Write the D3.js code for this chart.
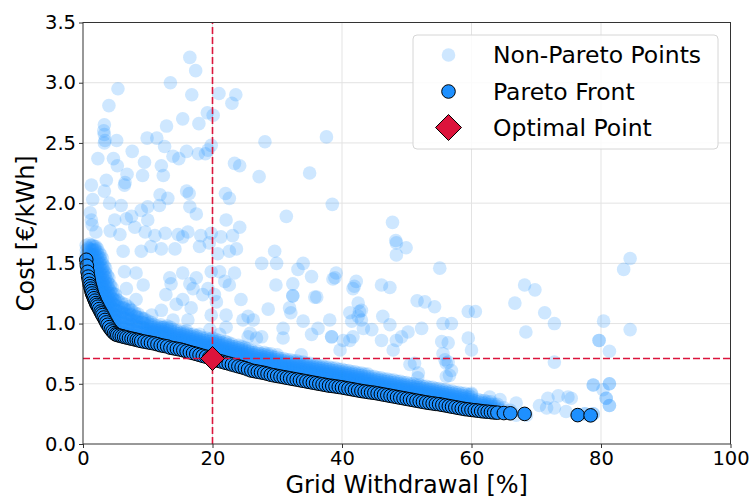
<!DOCTYPE html>
<html>
<head>
<meta charset="utf-8">
<script src="https://cdn.jsdelivr.net/npm/d3@7"></script>
<style>
  body { margin: 0; background: #fff; }
  svg { display: block; }
</style>
</head>
<body>
<div id="chart"></div>
<script>
// Axis ticks
const xTicks = [0, 20, 40, 60, 80, 100];
const yTicks = [0, 0.5, 1.0, 1.5, 2.0, 2.5, 3.0, 3.5];

// Optimal point [grid withdrawal %, cost]
const optimal = [20, 0.71];

// Pareto front points
const pareto = [
  [0.5,1.53],[0.6,1.48],[0.7,1.43],[0.8,1.39],[0.9,1.36],[1.0,1.33],[1.1,1.31],[1.2,1.29],
  [1.3,1.27],[1.4,1.25],[1.55,1.23],[1.7,1.21],[1.85,1.19],[2.0,1.17],[2.15,1.155],[2.3,1.14],
  [2.5,1.12],[2.7,1.10],[2.85,1.085],[3.0,1.07],[3.2,1.05],[3.4,1.03],[3.6,1.01],[3.8,0.99],
  [4.05,0.97],[4.3,0.95],[4.55,0.935],[4.8,0.92],[5.05,0.91],[5.3,0.905],[5.65,0.90],[6.0,0.895],
  [6.35,0.89],[6.7,0.885],[7.1,0.88],[7.5,0.875],[7.9,0.87],[8.3,0.865],[8.65,0.86],[9.0,0.855],
  [9.5,0.85],[10.0,0.845],[10.5,0.84],[11,0.835],[11.5,0.828],[12,0.82],[12.5,0.815],[13,0.81],
  [13.5,0.80],[14,0.795],[14.5,0.79],[15,0.785],[15.5,0.778],[16,0.77],[16.5,0.762],[17,0.755],
  [17.5,0.748],[18,0.74],[18.5,0.732],[19,0.725],[19.5,0.718],[20,0.71],[20.5,0.70],[21,0.69],
  [21.5,0.683],[22,0.675],[22.5,0.668],[23,0.66],[23.5,0.653],[24,0.645],[24.5,0.638],[25,0.63],
  [25.5,0.62],[26,0.61],[26.5,0.605],[27,0.60],[27.5,0.595],[28,0.59],[28.5,0.583],[29,0.575],
  [29.5,0.57],[30,0.565],[30.5,0.56],[31,0.555],[31.5,0.55],[32,0.545],[32.5,0.54],[33,0.535],
  [33.5,0.53],[34,0.525],[34.5,0.52],[35,0.515],[35.5,0.51],[36,0.505],[36.5,0.50],[37,0.495],
  [37.5,0.49],[38,0.485],[38.5,0.482],[39,0.478],[39.5,0.474],[40,0.47],[40.5,0.465],[41,0.46],
  [41.5,0.455],[42,0.45],[42.5,0.445],[43,0.44],[43.5,0.436],[44,0.432],[44.5,0.428],[45,0.425],
  [45.5,0.42],[46,0.415],[46.5,0.41],[47,0.405],[47.5,0.40],[48,0.395],[48.5,0.39],[49,0.385],
  [49.5,0.38],[50,0.375],[50.5,0.37],[51,0.365],[51.5,0.36],[52,0.355],[52.5,0.35],[53,0.345],
  [53.5,0.341],[54,0.337],[54.5,0.333],[55,0.33],[55.5,0.325],[56,0.32],[56.5,0.315],[57,0.31],
  [57.5,0.305],[58,0.30],[58.5,0.295],[59,0.29],[59.5,0.287],[60,0.283],[60.5,0.28],[61,0.277],
  [61.5,0.273],[62,0.27],[62.5,0.268],[63,0.265],[63.5,0.262],[64,0.26],[65,0.257],[66,0.255],
  [68.2,0.25],[76.4,0.24],[78.4,0.238]
];

// Dense cloud just above the front: [x, [costs...]]
const denseRows = [
  [0.5,[1.57,1.61,1.65]],
  [0.75,[1.47,1.51,1.55,1.59,1.63]],
  [1.0,[1.38,1.42,1.46,1.50,1.54,1.58,1.62,1.66]],
  [1.25,[1.33,1.37,1.41,1.45,1.49,1.53,1.57,1.61,1.65]],
  [1.5,[1.29,1.33,1.37,1.41,1.45,1.49,1.53,1.57,1.61,1.65]],
  [1.75,[1.25,1.29,1.33,1.37,1.41,1.45,1.49,1.53,1.57,1.61,1.64]],
  [2.0,[1.21,1.25,1.29,1.33,1.37,1.41,1.45,1.49,1.53,1.57,1.61,1.64]],
  [2.25,[1.18,1.22,1.26,1.30,1.34,1.38,1.42,1.46,1.50,1.54,1.58,1.62]],
  [2.5,[1.15,1.19,1.23,1.27,1.31,1.35,1.39,1.43,1.47,1.51,1.55,1.59]],
  [2.75,[1.13,1.17,1.21,1.25,1.29,1.33,1.37,1.41,1.45,1.49,1.53,1.57]],
  [3.0,[1.10,1.14,1.18,1.22,1.26,1.30,1.34,1.38,1.42,1.46,1.50,1.54]],
  [3.25,[1.08,1.12,1.16,1.20,1.24,1.28,1.32,1.36,1.40,1.44,1.48]],
  [3.5,[1.06,1.10,1.14,1.18,1.22,1.26,1.30,1.34,1.38,1.42,1.46]],
  [3.75,[1.03,1.07,1.11,1.15,1.19,1.23,1.27,1.31,1.35,1.40]],
  [4.0,[1.01,1.05,1.09,1.13,1.17,1.21,1.25,1.29,1.33,1.38]],
  [4.25,[0.99,1.03,1.07,1.11,1.15,1.19,1.23,1.27,1.32]],
  [4.5,[0.97,1.01,1.05,1.09,1.13,1.17,1.21,1.25,1.30]],
  [4.75,[0.96,1.00,1.04,1.08,1.12,1.16,1.20,1.25]],
  [5.0,[0.95,0.99,1.03,1.07,1.11,1.15,1.19,1.24]],
  [5.25,[0.95,0.99,1.03,1.07,1.11,1.15,1.20]],
  [5.5,[0.94,0.98,1.02,1.06,1.10,1.14,1.19]],
  [6.0,[0.93,0.97,1.01,1.05,1.09,1.13,1.17]],
  [6.25,[0.93,0.97,1.01,1.05,1.09,1.13]],
  [6.5,[0.92,0.96,1.00,1.04,1.08,1.12,1.16]],
  [7.0,[0.91,0.95,0.99,1.03,1.07,1.11,1.14]],
  [7.25,[0.92,0.96,1.00,1.04,1.08,1.12]],
  [7.5,[0.91,0.95,0.99,1.03,1.07,1.11]],
  [8.0,[0.90,0.94,0.98,1.02,1.06,1.09]],
  [8.25,[0.90,0.94,0.98,1.02,1.06]],
  [8.5,[0.89,0.93,0.97,1.01,1.05,1.08]],
  [9.0,[0.89,0.93,0.97,1.01,1.05]],
  [9.25,[0.89,0.93,0.97,1.01,1.04]],
  [9.5,[0.88,0.92,0.96,1.00,1.04]],
  [10,[0.88,0.90,0.92,0.94,0.96,0.98,1.00,1.02]],
  [10.5,[0.87,0.89,0.91,0.93,0.95,0.97,0.99,1.01]],
  [11,[0.87,0.89,0.91,0.93,0.95,0.97,0.99]],
  [11.5,[0.86,0.88,0.90,0.92,0.94,0.96,0.98]],
  [12,[0.85,0.87,0.89,0.91,0.93,0.95,0.97,0.99]],
  [12.5,[0.85,0.87,0.89,0.91,0.93,0.95,0.97]],
  [13,[0.84,0.86,0.88,0.90,0.92,0.94,0.96,0.98]],
  [13.5,[0.83,0.85,0.87,0.89,0.91,0.93,0.95,0.97]],
  [14,[0.83,0.85,0.87,0.89,0.91,0.93,0.95]],
  [14.5,[0.82,0.84,0.86,0.88,0.90,0.92,0.94]],
  [15,[0.82,0.84,0.86,0.88,0.90,0.92,0.94]],
  [15.5,[0.81,0.83,0.85,0.87,0.89,0.91,0.93]],
  [16,[0.80,0.82,0.84,0.86,0.88,0.90,0.92,0.94]],
  [16.5,[0.79,0.81,0.83,0.85,0.87,0.89,0.91]],
  [17,[0.79,0.81,0.83,0.85,0.87,0.89,0.91]],
  [17.5,[0.78,0.80,0.82,0.84,0.86,0.88,0.90]],
  [18,[0.77,0.79,0.81,0.83,0.85,0.87,0.89,0.91]],
  [18.5,[0.76,0.78,0.80,0.82,0.84,0.86,0.88]],
  [19,[0.76,0.78,0.80,0.82,0.84,0.86,0.88]],
  [19.5,[0.75,0.77,0.79,0.81,0.83,0.85,0.87]],
  [20,[0.74,0.76,0.78,0.80,0.82,0.84,0.86,0.88]],
  [20.5,[0.73,0.75,0.77,0.79,0.81,0.83,0.85,0.87]],
  [21,[0.72,0.74,0.76,0.78,0.80,0.82,0.84,0.86]],
  [21.5,[0.72,0.74,0.76,0.78,0.80,0.82,0.84]],
  [22,[0.71,0.73,0.75,0.77,0.79,0.81,0.83,0.85]],
  [22.5,[0.70,0.72,0.74,0.76,0.78,0.80,0.82,0.84]],
  [23,[0.69,0.71,0.73,0.75,0.77,0.79,0.81,0.83]],
  [23.5,[0.69,0.71,0.73,0.75,0.77,0.79,0.81]],
  [24,[0.68,0.70,0.72,0.74,0.76,0.78,0.80,0.82]],
  [24.5,[0.67,0.69,0.71,0.73,0.75,0.77,0.79,0.81]],
  [25,[0.66,0.68,0.70,0.72,0.74,0.76,0.78,0.80]],
  [25.5,[0.65,0.67,0.69,0.71,0.73,0.75,0.77,0.79]],
  [26,[0.64,0.66,0.68,0.70,0.72,0.74,0.76,0.78]],
  [26.5,[0.64,0.66,0.68,0.70,0.72,0.74,0.76]],
  [27,[0.63,0.65,0.67,0.69,0.71,0.73,0.75,0.77]],
  [27.5,[0.63,0.65,0.67,0.69,0.71,0.73,0.75]],
  [28,[0.62,0.64,0.66,0.68,0.70,0.72,0.74,0.76]],
  [28.5,[0.61,0.63,0.65,0.67,0.69,0.71,0.73,0.75]],
  [29,[0.61,0.63,0.65,0.67,0.69,0.71,0.73,0.75]],
  [29.5,[0.60,0.62,0.64,0.66,0.68,0.70,0.72]],
  [30,[0.60,0.62,0.64,0.66,0.68,0.70,0.72,0.74]],
  [30.5,[0.59,0.61,0.63,0.65,0.67,0.69,0.71]],
  [31,[0.59,0.61,0.63,0.65,0.67,0.69,0.71]],
  [31.5,[0.58,0.60,0.62,0.64,0.66,0.68,0.70]],
  [32,[0.58,0.60,0.62,0.64,0.66,0.68,0.70]],
  [32.5,[0.57,0.59,0.61,0.63,0.65,0.67,0.69]],
  [33,[0.57,0.59,0.61,0.63,0.65,0.67,0.69]],
  [33.5,[0.56,0.58,0.60,0.62,0.64,0.66,0.68]],
  [34,[0.56,0.58,0.60,0.62,0.64,0.66,0.68]],
  [34.5,[0.55,0.57,0.59,0.61,0.63,0.65,0.67]],
  [35,[0.55,0.57,0.59,0.61,0.63,0.65,0.67]],
  [35.5,[0.54,0.56,0.58,0.60,0.62,0.64,0.66]],
  [36,[0.54,0.56,0.58,0.60,0.62,0.64,0.66]],
  [36.5,[0.53,0.55,0.57,0.59,0.61,0.63,0.65]],
  [37,[0.53,0.55,0.57,0.59,0.61,0.63,0.65]],
  [37.5,[0.52,0.54,0.56,0.58,0.60,0.62,0.64]],
  [38,[0.52,0.54,0.56,0.58,0.60,0.62,0.64]],
  [38.5,[0.51,0.53,0.55,0.57,0.59,0.61,0.63]],
  [39,[0.51,0.53,0.55,0.57,0.59,0.61,0.63]],
  [39.5,[0.50,0.52,0.54,0.56,0.58,0.60,0.62]],
  [40,[0.50,0.52,0.54,0.56,0.58,0.60,0.62]],
  [40.5,[0.49,0.51,0.53,0.55,0.57,0.59,0.61]],
  [41,[0.49,0.51,0.53,0.55,0.57,0.59,0.61]],
  [41.5,[0.48,0.50,0.52,0.54,0.56,0.58,0.60]],
  [42,[0.48,0.50,0.52,0.54,0.56,0.58,0.60]],
  [42.5,[0.47,0.49,0.51,0.53,0.55,0.57,0.59]],
  [43,[0.47,0.49,0.51,0.53,0.55,0.57,0.59]],
  [43.5,[0.46,0.48,0.50,0.52,0.54,0.56,0.58]],
  [44,[0.46,0.48,0.50,0.52,0.54,0.56,0.58]],
  [44.5,[0.46,0.48,0.50,0.52,0.54,0.56]],
  [45,[0.46,0.48,0.50,0.52,0.54,0.56]],
  [45.5,[0.45,0.47,0.49,0.51,0.53,0.55]],
  [46,[0.45,0.47,0.49,0.51,0.53,0.55]],
  [46.5,[0.44,0.46,0.48,0.50,0.52,0.54]],
  [47,[0.44,0.46,0.48,0.50,0.52,0.54]],
  [47.5,[0.43,0.45,0.47,0.49,0.51,0.53]],
  [48,[0.43,0.45,0.47,0.49,0.51,0.53]],
  [48.5,[0.42,0.44,0.46,0.48,0.50,0.52]],
  [49,[0.42,0.44,0.46,0.48,0.50,0.52]],
  [49.5,[0.41,0.43,0.45,0.47,0.49,0.51]],
  [50,[0.41,0.43,0.45,0.47,0.49,0.51]],
  [50.5,[0.40,0.42,0.44,0.46,0.48,0.50]],
  [51,[0.40,0.42,0.44,0.46,0.48,0.50]],
  [51.5,[0.39,0.41,0.43,0.45,0.47,0.49]],
  [52,[0.39,0.41,0.43,0.45,0.47,0.49]],
  [52.5,[0.38,0.40,0.42,0.44,0.46,0.48]],
  [53,[0.38,0.40,0.42,0.44,0.46,0.48]],
  [53.5,[0.37,0.39,0.41,0.43,0.45,0.47]],
  [54,[0.37,0.39,0.41,0.43,0.45,0.47]],
  [54.5,[0.36,0.38,0.40,0.42,0.44,0.46]],
  [55,[0.36,0.38,0.40,0.42,0.44,0.46]],
  [55.5,[0.35,0.37,0.39,0.41,0.43,0.45]],
  [56,[0.35,0.37,0.39,0.41,0.43,0.45]],
  [56.5,[0.34,0.36,0.38,0.40,0.42,0.44]],
  [57,[0.34,0.36,0.38,0.40,0.42,0.44]],
  [57.5,[0.33,0.35,0.37,0.39,0.41,0.43]],
  [58,[0.33,0.35,0.37,0.39,0.41,0.43]],
  [58.5,[0.32,0.34,0.36,0.38,0.40,0.42]],
  [59,[0.32,0.34,0.36,0.38,0.40,0.42]],
  [59.5,[0.31,0.33,0.35,0.37,0.39,0.41]],
  [60,[0.31,0.33,0.35,0.37,0.39,0.41]],
  [60.5,[0.30,0.32,0.34,0.36]],
  [61,[0.31,0.33,0.35,0.37]],
  [61.5,[0.30,0.32,0.34,0.36]],
  [62,[0.30,0.32,0.34,0.36]],
  [62.5,[0.29,0.31,0.33,0.35]],
  [63,[0.29,0.31,0.33,0.35]],
  [63.5,[0.29,0.31,0.33]],
  [64,[0.29,0.31,0.33]],
  [65,[0.28,0.30]],
  [66,[0.28]]
];

// Scattered non-Pareto points
const scattered = [
  [16.5,3.21],[17.4,3.10],[13.5,3.00],[5.4,2.95],[16.8,2.90],[21.0,2.91],[23.6,2.90],[23.0,2.83],
  [4.0,2.81],[19.2,2.75],[20.1,2.73],[15.4,2.70],[17.9,2.66],[12.9,2.64],[3.3,2.65],[3.2,2.60],
  [3.3,2.57],[3.4,2.52],[3.3,2.50],[5.2,2.52],[9.9,2.54],[11.4,2.54],[12.6,2.47],[7.6,2.43],
  [19.8,2.48],[19.3,2.44],[17.8,2.41],[18.9,2.41],[16.0,2.43],[13.9,2.39],[14.8,2.37],[2.3,2.37],
  [4.7,2.37],[5.3,2.31],[9.5,2.34],[9.2,2.23],[12.1,2.31],[12.4,2.23],[6.8,2.24],[6.5,2.17],
  [6.4,2.15],[23.4,2.33],[24.2,2.31],[3.6,2.19],[1.3,2.15],[3.3,2.10],[16.0,2.10],[16.4,2.08],
  [11.9,2.07],[13.1,2.04],[22.0,2.08],[22.6,2.04],[1.5,2.03],[4.1,2.00],[5.9,1.98],[10.0,1.97],
  [11.8,1.98],[16.5,1.97],[17.5,1.91],[9.0,1.94],[1.1,1.92],[1.3,1.86],[1.4,1.82],[4.9,1.86],
  [6.7,1.87],[7.5,1.89],[8.0,1.80],[10.0,1.86],[22.1,1.86],[24.2,1.80],[2.0,1.76],[4.2,1.77],
  [5.7,1.74],[9.6,1.76],[11.1,1.73],[12.7,1.75],[14.7,1.74],[15.4,1.72],[16.2,1.76],[18.2,1.73],
  [19.8,1.75],[21.3,1.72],[23.1,1.73],
  [28.1,2.51],[37.6,2.55],[27.2,2.22],[35.0,2.25],[38.5,1.99],[31.4,1.89],[47.8,1.84],[48.3,1.69],
  [84.5,1.54],[83.5,1.45],[68.2,1.32],[69.8,1.28],[66.7,1.17],
  [23.7,1.62],[6.2,1.60],[9.0,1.60],[10.5,1.64],[12.1,1.62],[14.2,1.62],[18.0,1.64],[19.5,1.67],
  [20.8,1.58],[22.6,1.60],[6.4,1.43],[8.2,1.42],[9.3,1.32],[6.7,1.29],[8.2,1.20],
  [13.4,1.38],[13.6,1.33],[15.4,1.42],[16.5,1.33],[17.0,1.29],[17.5,1.38],[18.5,1.24],[15.4,1.20],
  [12.8,1.24],[14.4,1.16],[16.7,1.13],[16.2,1.03],[13.9,1.03],[12.1,1.11],[10.6,1.07],[12.3,0.97],
  [20.6,1.18],[19.8,1.07],[19.6,0.95],[21.1,0.91],[22.1,1.07],[24.4,1.20],[22.1,0.97],
  [21.1,1.43],[23.4,1.42],[19.8,1.43],[21.9,1.35],[22.6,1.32],[19.3,1.29],[20.3,1.24],
  [25.5,1.06],[24.7,1.03],[25.5,0.89],
  [29.6,1.60],[29.9,1.50],[27.6,1.50],[33.2,1.45],[34.0,1.50],[35.3,1.39],[29.8,1.32],[32.4,1.33],
  [32.4,1.23],[32.4,1.23],[36.1,1.22],[28.6,1.12],[31.9,1.13],[32.1,1.09],[39.1,1.42],[38.9,1.38],
  [38.6,1.37],[42.2,1.35],[41.9,1.31],[41.7,1.29],[48.4,1.67],[48.4,1.57],[49.9,1.63],[46.1,1.32],
  [47.4,1.30],[55.1,1.46],[51.6,1.19],[52.8,1.18],[54.3,1.14],
  [34.0,1.02],[38.1,1.03],[36.3,0.96],[35.3,0.91],[38.4,0.89],[38.4,0.89],[30.9,0.96],[30.9,0.88],
  [41.2,1.09],[42.7,1.10],[43.0,1.03],[41.5,1.02],[41.7,0.89],[41.2,0.86],[40.2,0.86],[39.7,0.78],
  [44.6,0.95],[46.1,0.86],[46.3,1.06],[47.4,0.99],[48.4,0.86],[47.9,0.78],[49.2,0.89],[50.2,0.93],
  [50.5,0.66],[52.3,0.96],[55.6,1.00],[55.4,0.85],[55.6,0.75],[56.1,0.67],[56.1,0.56],
  [26.3,1.03],[25.8,0.92],[26.8,0.88],[27.6,0.89],[33.7,0.74],
  [35.8,1.22],[42.5,1.17],[43.0,1.11],[42.5,1.06],[43.3,0.96],[51.2,0.67],[51.8,0.59],[51.7,0.55],
  [55.9,0.70],[56.6,0.57],[59.5,1.10],[60.6,1.10],[59.5,0.88],[60.0,0.78],[71.3,1.09],[72.8,1.00],
  [68.4,0.93],[80.4,1.02],[84.5,0.95],[79.7,0.86],[79.7,0.86],[81.3,0.77],[72.8,0.68],
  [56.9,1.00],[56.4,0.84],[56.9,0.61],[56.4,0.68],
  [78.8,0.49],[78.8,0.49],[81.3,0.50],[81.3,0.50],[80.3,0.45],[81.3,0.32],[81.3,0.32],[80.8,0.38],
  [80.8,0.38],[70.5,0.32],[71.8,0.38],[73.4,0.40],[74.9,0.39],[72.8,0.30],[71.6,0.30],[74.6,0.27],
  [75.4,0.38],[77.5,0.25],[77.5,0.25],[78.8,0.25],[78.8,0.25],[60.0,0.42],[62.8,0.39],[64.4,0.37],
  [66.9,0.34],[68.5,0.24],[66.9,0.24]
];

const legendLabels = ["Non-Pareto Points", "Pareto Front", "Optimal Point"];

function createChart() {
    const width = 752;
    const height = 498;
    const font = "DejaVu Sans, sans-serif";
    const blue = "#1E90FF";
    const red = "#DC143C";

    const x = d3.scaleLinear().domain([0, 100]).range([83, 730.5]);
    const y = d3.scaleLinear().domain([0, 3.5]).range([444, 22.5]);

    const svg = d3.create("svg")
        .attr("width", width)
        .attr("height", height)
        .attr("viewBox", `0 0 ${width} ${height}`)
        .style("font-family", font);

    // Grid
    svg.append("g")
        .selectAll("line")
        .data(xTicks.slice(1, -1))
        .join("line")
        .attr("x1", d => x(d)).attr("x2", d => x(d))
        .attr("y1", y(0)).attr("y2", y(3.5))
        .attr("stroke", "#e3e3e3").attr("stroke-width", 1);
    svg.append("g")
        .selectAll("line")
        .data(yTicks.slice(1, -1))
        .join("line")
        .attr("x1", x(0)).attr("x2", x(100))
        .attr("y1", d => y(d)).attr("y2", d => y(d))
        .attr("stroke", "#e3e3e3").attr("stroke-width", 1);

    // Non-Pareto points
    const nonPareto = scattered.concat(denseRows.flatMap(([xv, ys]) => ys.map(v => [xv, v])));
    svg.append("g")
        .selectAll("circle")
        .data(nonPareto)
        .join("circle")
        .attr("cx", d => x(d[0]))
        .attr("cy", d => y(d[1]))
        .attr("r", 6.8)
        .attr("fill", blue)
        .attr("fill-opacity", 0.22);

    // Pareto front
    svg.append("g")
        .selectAll("circle")
        .data(pareto)
        .join("circle")
        .attr("cx", d => x(d[0]))
        .attr("cy", d => y(d[1]))
        .attr("r", 6.8)
        .attr("fill", blue)
        .attr("stroke", "#000")
        .attr("stroke-width", 1);

    // Reference lines
    svg.append("line")
        .attr("x1", x(optimal[0])).attr("x2", x(optimal[0]))
        .attr("y1", y(0)).attr("y2", y(3.5))
        .attr("stroke", red).attr("stroke-width", 1.6).attr("stroke-dasharray", "7,3");
    svg.append("line")
        .attr("x1", x(0)).attr("x2", x(100))
        .attr("y1", y(optimal[1])).attr("y2", y(optimal[1]))
        .attr("stroke", red).attr("stroke-width", 1.6).attr("stroke-dasharray", "7,3");

    // Optimal point
    const diamond = s => `M0,${-s}L${s},0L0,${s}L${-s},0Z`;
    svg.append("path")
        .attr("d", diamond(12))
        .attr("transform", `translate(${x(optimal[0])},${y(optimal[1])})`)
        .attr("fill", red)
        .attr("stroke", "#000")
        .attr("stroke-width", 1);

    // Axes
    const xAxis = svg.append("g")
        .attr("transform", `translate(0,${y(0)})`)
        .call(d3.axisBottom(x).tickValues(xTicks).tickSize(4).tickPadding(3).tickFormat(d3.format("d")));
    const yAxis = svg.append("g")
        .attr("transform", `translate(${x(0)},0)`)
        .call(d3.axisLeft(y).tickValues(yTicks).tickSize(4).tickPadding(3).tickFormat(d3.format(".1f")));
    [xAxis, yAxis].forEach(a => {
        a.select(".domain").remove();
        a.selectAll(".tick line").attr("stroke", "#333");
        a.selectAll(".tick text").attr("fill", "#000").style("font-size", "19.5px").style("font-family", font);
    });

    // Frame
    svg.append("rect")
        .attr("x", x(0)).attr("y", y(3.5))
        .attr("width", x(100) - x(0)).attr("height", y(0) - y(3.5))
        .attr("fill", "none").attr("stroke", "#333").attr("stroke-width", 1);

    // Axis labels
    svg.append("text")
        .attr("x", (x(0) + x(100)) / 2)
        .attr("y", 493)
        .attr("text-anchor", "middle")
        .style("font-size", "24px")
        .text("Grid Withdrawal [%]");
    svg.append("text")
        .attr("transform", `translate(34,${(y(0) + y(3.5)) / 2}) rotate(-90)`)
        .attr("text-anchor", "middle")
        .style("font-size", "24px")
        .text("Cost [€/kWh]");

    // Legend
    const legend = svg.append("g");
    legend.append("rect")
        .attr("x", 413).attr("y", 35)
        .attr("width", 305).attr("height", 114)
        .attr("rx", 4)
        .attr("fill", "#fff").attr("fill-opacity", 0.85)
        .attr("stroke", "#d6d6d6").attr("stroke-width", 1);
    const rowY = [55, 91.5, 127.5];
    legend.append("circle")
        .attr("cx", 448.5).attr("cy", rowY[0]).attr("r", 6.8)
        .attr("fill", blue).attr("fill-opacity", 0.22);
    legend.append("circle")
        .attr("cx", 448.5).attr("cy", rowY[1]).attr("r", 6.8)
        .attr("fill", blue).attr("stroke", "#000").attr("stroke-width", 1);
    legend.append("path")
        .attr("d", diamond(13))
        .attr("transform", `translate(448.5,${rowY[2]})`)
        .attr("fill", red).attr("stroke", "#000").attr("stroke-width", 1);
    legend.selectAll("text")
        .data(legendLabels)
        .join("text")
        .attr("x", 493)
        .attr("y", (d, i) => rowY[i])
        .attr("dy", "0.36em")
        .style("font-size", "23.5px")
        .text(d => d);

    return svg.node();
}

document.getElementById("chart").appendChild(createChart());
</script>
</body>
</html>
